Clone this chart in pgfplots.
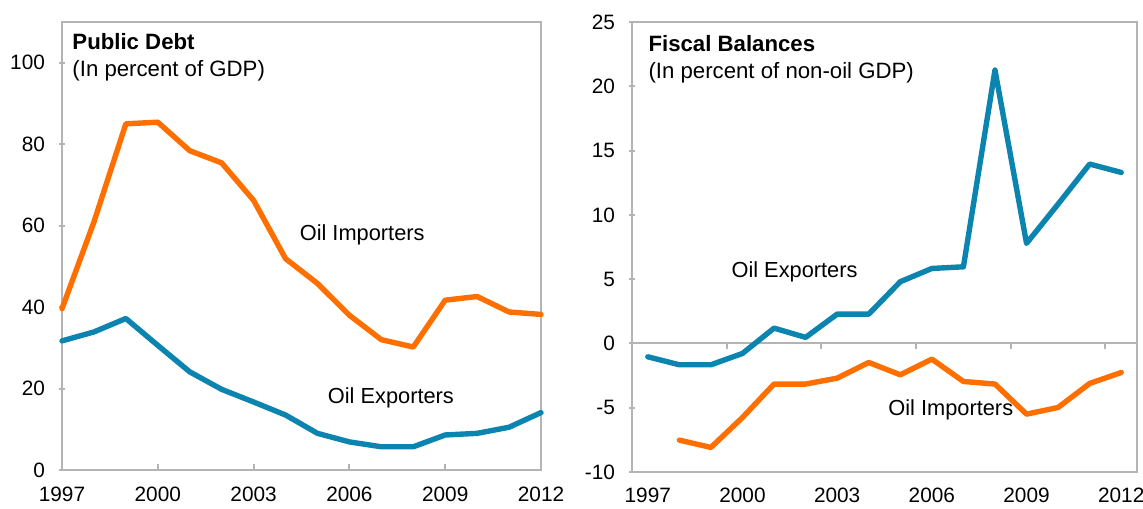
\documentclass[border=0pt]{standalone}
\usepackage{pgfplots}
\pgfplotsset{compat=1.18}
\usepackage{fontspec}
\setmainfont{Liberation Sans}
\definecolor{orng}{RGB}{255,111,0}
\definecolor{blu}{RGB}{12,132,176}
\definecolor{axgray}{RGB}{180,180,180}
\pgfplotsset{
  myaxis/.style={
    scale only axis,
    axis line style={axgray, line width=1pt},
    tick style={axgray, line width=1pt},
    major tick length=3pt,
    tick pos=left,
    font=\fontsize{10.9}{13}\selectfont,
    ticklabel style={font=\fontsize{10.4}{12}\selectfont},
    /pgf/number format/assume math mode=true,
    /pgf/number format/1000 sep={},
    xticklabel style={yshift=-5pt},
    yticklabel style={xshift=-3.5pt},
    clip=false,
  },
  serie/.style={line width=2.7pt, line join=round, line cap=round},
}
\tikzset{
  lab/.style={font=\fontsize{10.9}{13}\selectfont},
  ttl/.style={anchor=north west, align=left, inner sep=0pt, font=\fontsize{11.1}{13.6}\selectfont},
}
\begin{document}
\begin{tikzpicture}
\useasboundingbox (-31pt,-19pt) rectangle (540.5pt,235pt);
\begin{axis}[myaxis,
  at={(0,0)}, anchor=south west,
  width=239.5pt, height=224pt,
  xmin=1997, xmax=2012, ymin=0, ymax=110,
  xtick={1997,2000,...,2012},
  ytick={0,20,...,100},
  xtick align=inside,
  ytick align=center,
]
\addplot[serie, orng] coordinates {
(1997,39.6)(1998,60.9)(1999,85.0)(2000,85.4)(2001,78.4)(2002,75.4)(2003,66.2)(2004,51.9)
(2005,45.8)(2006,38.0)(2007,32.0)(2008,30.2)(2009,41.7)(2010,42.6)(2011,38.8)(2012,38.2)};
\addplot[serie, blu] coordinates {
(1997,31.7)(1998,33.9)(1999,37.2)(2000,30.6)(2001,24.1)(2002,19.8)(2003,16.7)(2004,13.5)
(2005,9.0)(2006,6.9)(2007,5.7)(2008,5.7)(2009,8.6)(2010,9.0)(2011,10.5)(2012,14.1)};
\node[ttl] at (rel axis cs:0.021,0.975)
  {\textbf{Public Debt}\\(In percent of GDP)};
\node[lab] at (axis cs:2006.4,57.8) {Oil Importers};
\node[lab] at (axis cs:2007.3,17.6) {Oil Exporters};
\end{axis}
\begin{axis}[myaxis,
  at={(285pt,-1pt)}, anchor=south west,
  width=252.5pt, height=225pt,
  xmin=1996.5, xmax=2012.5, ymin=-10, ymax=25,
  xtick={1997,2000,...,2012},
  ytick={-10,-5,...,25},
  ytick align=center,
  x tick style={draw=none},
  xticklabel style={yshift=0.5pt},
]
\draw[axgray, line width=1pt] (axis cs:1996.5,0) -- (axis cs:2012.5,0);
\draw[axgray, line width=1pt] (axis cs:1999.5,0) -- ([yshift=-2.6pt]axis cs:1999.5,0);
\draw[axgray, line width=1pt] (axis cs:2002.5,0) -- ([yshift=-2.6pt]axis cs:2002.5,0);
\draw[axgray, line width=1pt] (axis cs:2005.5,0) -- ([yshift=-2.6pt]axis cs:2005.5,0);
\draw[axgray, line width=1pt] (axis cs:2008.5,0) -- ([yshift=-2.6pt]axis cs:2008.5,0);
\draw[axgray, line width=1pt] (axis cs:2011.5,0) -- ([yshift=-2.6pt]axis cs:2011.5,0);
\addplot[serie, blu] coordinates {
(1997,-1.04)(1998,-1.66)(1999,-1.66)(2000,-0.78)(2001,1.19)(2002,0.47)(2003,2.28)(2004,2.28)
(2005,4.8)(2006,5.83)(2007,5.96)(2008,21.26)(2009,7.78)(2010,10.84)(2011,13.95)(2012,13.3)};
\addplot[serie, orng] coordinates {
(1998,-7.52)(1999,-8.09)(2000,-5.76)(2001,-3.16)(2002,-3.16)(2003,-2.70)(2004,-1.48)
(2005,-2.44)(2006,-1.22)(2007,-2.96)(2008,-3.16)(2009,-5.50)(2010,-4.98)(2011,-3.11)(2012,-2.26)};
\node[ttl] at (rel axis cs:0.032,0.972)
  {\textbf{Fiscal Balances}\\(In percent of non-oil GDP)};
\node[lab] at (axis cs:2001.65,5.6) {Oil Exporters};
\node[lab] at (axis cs:2006.6,-5.15) {Oil Importers};
\end{axis}
\end{tikzpicture}
\end{document}
